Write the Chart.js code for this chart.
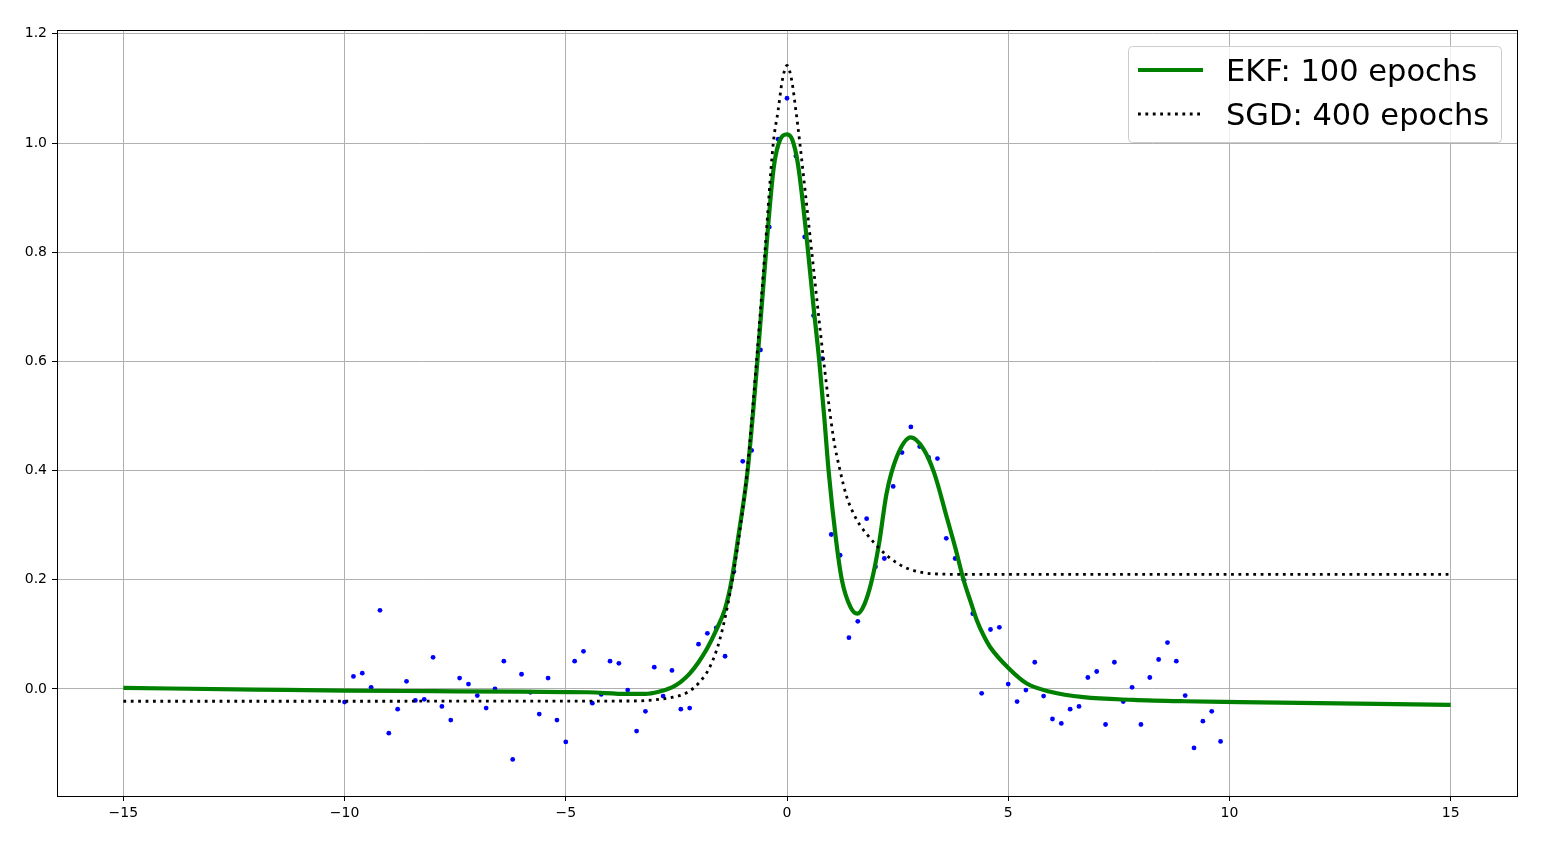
<!DOCTYPE html>
<html>
<head>
<meta charset="utf-8">
<script src="https://cdn.jsdelivr.net/npm/chart.js@4/dist/chart.umd.min.js"></script>
<style>
    body { margin: 0; background: #fff; }
    #wrap { width: 1560px; height: 864px; }
</style>
</head>
<body>
<div id="wrap"><canvas id="fit-chart" width="1560" height="864"></canvas></div>
<script>
// Noisy samples
var pointsX = [-10.0, -9.8, -9.6, -9.4, -9.2, -9.0, -8.8, -8.6, -8.4, -8.2,
    -8.0, -7.8, -7.6, -7.4, -7.2, -7.0, -6.8, -6.6, -6.4, -6.2,
    -6.0, -5.8, -5.6, -5.4, -5.2, -5.0, -4.8, -4.6, -4.4, -4.2,
    -4.0, -3.8, -3.6, -3.4, -3.2, -3.0, -2.8, -2.6, -2.4, -2.2,
    -2.0, -1.8, -1.6, -1.4, -1.2, -1.0, -0.8, -0.6, -0.4, -0.2,
    0.0, 0.2, 0.4, 0.6, 0.8, 1.0, 1.2, 1.4, 1.6, 1.8,
    2.0, 2.2, 2.4, 2.6, 2.8, 3.0, 3.2, 3.4, 3.6, 3.8,
    4.0, 4.2, 4.4, 4.6, 4.8, 5.0, 5.2, 5.4, 5.6, 5.8,
    6.0, 6.2, 6.4, 6.6, 6.8, 7.0, 7.2, 7.4, 7.6, 7.8,
    8.0, 8.2, 8.4, 8.6, 8.8, 9.0, 9.2, 9.4, 9.6, 9.8];
var pointsY = [-0.024, 0.023, 0.029, 0.003, 0.144, -0.081, -0.037, 0.014, -0.021, -0.019,
    0.058, -0.032, -0.057, 0.020, 0.009, -0.012, -0.035, 0.000, 0.051, -0.129,
    0.027, -0.006, -0.046, 0.020, -0.057, -0.097, 0.051, 0.069, -0.026, -0.010,
    0.051, 0.047, -0.002, -0.077, -0.041, 0.040, -0.013, 0.034, -0.037, -0.035,
    0.082, 0.102, 0.112, 0.060, 0.215, 0.417, 0.437, 0.621, 0.846, 1.007,
    1.082, 0.976, 0.828, 0.684, 0.605, 0.283, 0.245, 0.094, 0.124, 0.312,
    0.224, 0.239, 0.371, 0.433, 0.480, 0.444, 0.424, 0.422, 0.276, 0.239,
    0.199, 0.138, -0.008, 0.109, 0.113, 0.009, -0.023, -0.002, 0.049, -0.013,
    -0.055, -0.063, -0.037, -0.032, 0.021, 0.032, -0.065, 0.049, -0.023, 0.003,
    -0.065, 0.021, 0.054, 0.085, 0.051, -0.012, -0.108, -0.059, -0.041, -0.096];

// EKF fit (100 epochs)
var ekfX = [-15, -12, -10, -8, -6, -4.5, -3.6, -3.2, -2.9, -2.6, -2.4, -2.2, -2.0, -1.8, -1.6,
    -1.4, -1.25, -1.1, -0.89, -0.67, -0.475, -0.3, -0.15, 0, 0.12, 0.25, 0.45, 0.6, 0.73, 0.84,
    0.94, 1.11, 1.24, 1.43, 1.59, 1.75, 1.92, 2.08, 2.25, 2.48, 2.8, 3.09, 3.33, 3.62, 3.8,
    3.99, 4.15, 4.29, 4.45, 4.59, 5.01, 5.42, 5.95, 6.7, 7.83, 8.97, 10.25, 15];
var ekfY = [0.002, -0.001, -0.003, -0.004, -0.005, -0.006, -0.009, -0.009, -0.005, 0.003, 0.013, 0.028, 0.049, 0.075, 0.108,
    0.147, 0.2, 0.279, 0.4, 0.6, 0.8, 0.955, 1.007, 1.016, 1.006, 0.96, 0.822, 0.70, 0.6, 0.5,
    0.4, 0.272, 0.2, 0.151, 0.138, 0.155, 0.2, 0.266, 0.358, 0.425, 0.461, 0.439, 0.395, 0.312, 0.26,
    0.2, 0.16, 0.126, 0.097, 0.077, 0.038, 0.010, -0.005, -0.015, -0.020, -0.0225, -0.024, -0.029];

// SGD fit (400 epochs)
var sgdX = [-15, -3.5, -3.0, -2.58, -2.27, -1.97, -1.74, -1.52, -1.29, -1.1, -0.9, -0.69, -0.5,
    -0.31, -0.2, -0.11, 0, 0.11, 0.2, 0.29, 0.56, 0.83, 1.05, 1.2, 1.35, 1.5, 1.65, 1.8, 2.0,
    2.25, 2.5, 2.78, 3.3, 4.0, 15];
var sgdY = [-0.0225, -0.022, -0.02, -0.015, -0.007, 0.013, 0.041, 0.09, 0.175, 0.27, 0.4, 0.6, 0.8,
    1.0, 1.06, 1.113, 1.142, 1.113, 1.06, 1.0, 0.8, 0.6, 0.46, 0.4, 0.352, 0.322, 0.3, 0.284, 0.265,
    0.245, 0.23, 0.219, 0.211, 0.21, 0.21];

var xTicks = [-15, -10, -5, 0, 5, 10, 15];
var yTicks = [0.0, 0.2, 0.4, 0.6, 0.8, 1.0, 1.2];

var labels = ['EKF: 100 epochs', 'SGD: 400 epochs'];

function toPoints(xs, ys) {
    var out = [];
    for (let i = 0; i < xs.length; i++) {
        out.push({ x: xs[i], y: ys[i] });
    }
    return out;
}

var font = { family: 'DejaVu Sans', size: 14 };

// box around the whole plot, like the mpl spines
var frame = {
    id: 'frame',
    afterDraw: function (chart) {
        let a = chart.chartArea;
        let ctx = chart.ctx;
        ctx.save();
        ctx.strokeStyle = '#000';
        ctx.lineWidth = 1;
        ctx.strokeRect(Math.round(a.left) + 0.5, Math.round(a.top) + 0.5,
            Math.round(a.right - a.left), Math.round(a.bottom - a.top));
        ctx.restore();
    }
};

// mpl style legend in the upper right
var mplLegend = {
    id: 'mplLegend',
    afterDraw: function (chart) {
        let ctx = chart.ctx;
        let a = chart.chartArea;
        let boxRight = a.right - 16;
        let boxLeft = boxRight - 373;
        let boxTop = a.top + 16;
        let boxH = 96;
        ctx.save();
        ctx.beginPath();
        ctx.roundRect(boxLeft + 0.5, boxTop + 0.5, 373, boxH, 4);
        ctx.fillStyle = 'rgba(255,255,255,0.8)';
        ctx.fill();
        ctx.strokeStyle = '#cccccc';
        ctx.lineWidth = 1;
        ctx.stroke();

        let sets = chart.data.datasets.filter((d) => d.label);
        for (let i = 0; i < sets.length; i++) {
            let ds = sets[i];
            let yy = boxTop + 24 + i * 44;
            ctx.beginPath();
            ctx.strokeStyle = ds.borderColor;
            ctx.lineWidth = ds.borderWidth;
            ctx.lineCap = 'butt';
            ctx.setLineDash(ds.borderDash || []);
            ctx.moveTo(boxLeft + 10, yy);
            ctx.lineTo(boxLeft + 75, yy);
            ctx.stroke();
            ctx.setLineDash([]);
            ctx.fillStyle = '#000';
            ctx.font = '30.5px "DejaVu Sans"';
            ctx.textBaseline = 'alphabetic';
            ctx.textAlign = 'left';
            ctx.fillText(ds.label, boxLeft + 98, yy + 10.5);
        }
        ctx.restore();
    }
};

var chart = new Chart(
    document.getElementById('fit-chart'),
    {
        type: 'scatter',
        data: {
            datasets: [
                {
                    label: labels[0],
                    data: toPoints(ekfX, ekfY),
                    showLine: true,
                    borderColor: '#008000',
                    backgroundColor: '#008000',
                    borderWidth: 4.2,
                    pointRadius: 0,
                    cubicInterpolationMode: 'monotone',
                    order: 2
                },
                {
                    label: labels[1],
                    data: toPoints(sgdX, sgdY),
                    showLine: true,
                    borderColor: '#000000',
                    backgroundColor: '#000000',
                    borderWidth: 2.8,
                    borderDash: [2.8, 4.6],
                    borderCapStyle: 'butt',
                    pointRadius: 0,
                    cubicInterpolationMode: 'monotone',
                    order: 1
                },
                {
                    label: '',
                    data: toPoints(pointsX, pointsY),
                    backgroundColor: '#0000ff',
                    borderWidth: 0,
                    pointRadius: 2.4,
                    order: 3
                }]
        },
        options: {
            responsive: false,
            animation: false,
            events: [],
            layout: {
                padding: { top: 30, right: 43, left: 0, bottom: 0 }
            },
            plugins: {
                legend: { display: false },
                tooltip: { enabled: false }
            },
            scales: {
                x: {
                    type: 'linear',
                    min: -16.5,
                    max: 16.5,
                    afterBuildTicks: function (scale) {
                        scale.ticks = xTicks.map((v) => ({ value: v }));
                    },
                    afterFit: function (scale) {
                        scale.height = 68;
                    },
                    ticks: {
                        color: '#000',
                        font: font,
                        padding: 4,
                        maxRotation: 0,
                        autoSkip: false,
                        callback: (v) => String(v).replace('-', '\u2212')
                    },
                    grid: {
                        color: '#b0b0b0',
                        lineWidth: 1,
                        tickColor: '#000',
                        tickLength: 5,
                        tickWidth: 1
                    },
                    border: { color: '#000', width: 1 }
                },
                y: {
                    type: 'linear',
                    min: -0.196,
                    max: 1.207,
                    afterBuildTicks: function (scale) {
                        scale.ticks = yTicks.map((v) => ({ value: v }));
                    },
                    afterFit: function (scale) {
                        scale.width = 57;
                    },
                    ticks: {
                        color: '#000',
                        font: font,
                        padding: 5,
                        autoSkip: false,
                        callback: (v) => v.toFixed(1)
                    },
                    grid: {
                        color: '#b0b0b0',
                        lineWidth: 1,
                        tickColor: '#000',
                        tickLength: 5,
                        tickWidth: 1
                    },
                    border: { color: '#000', width: 1 }
                }
            }
        },
        plugins: [frame, mplLegend]
    }
);
</script>
</body>
</html>
